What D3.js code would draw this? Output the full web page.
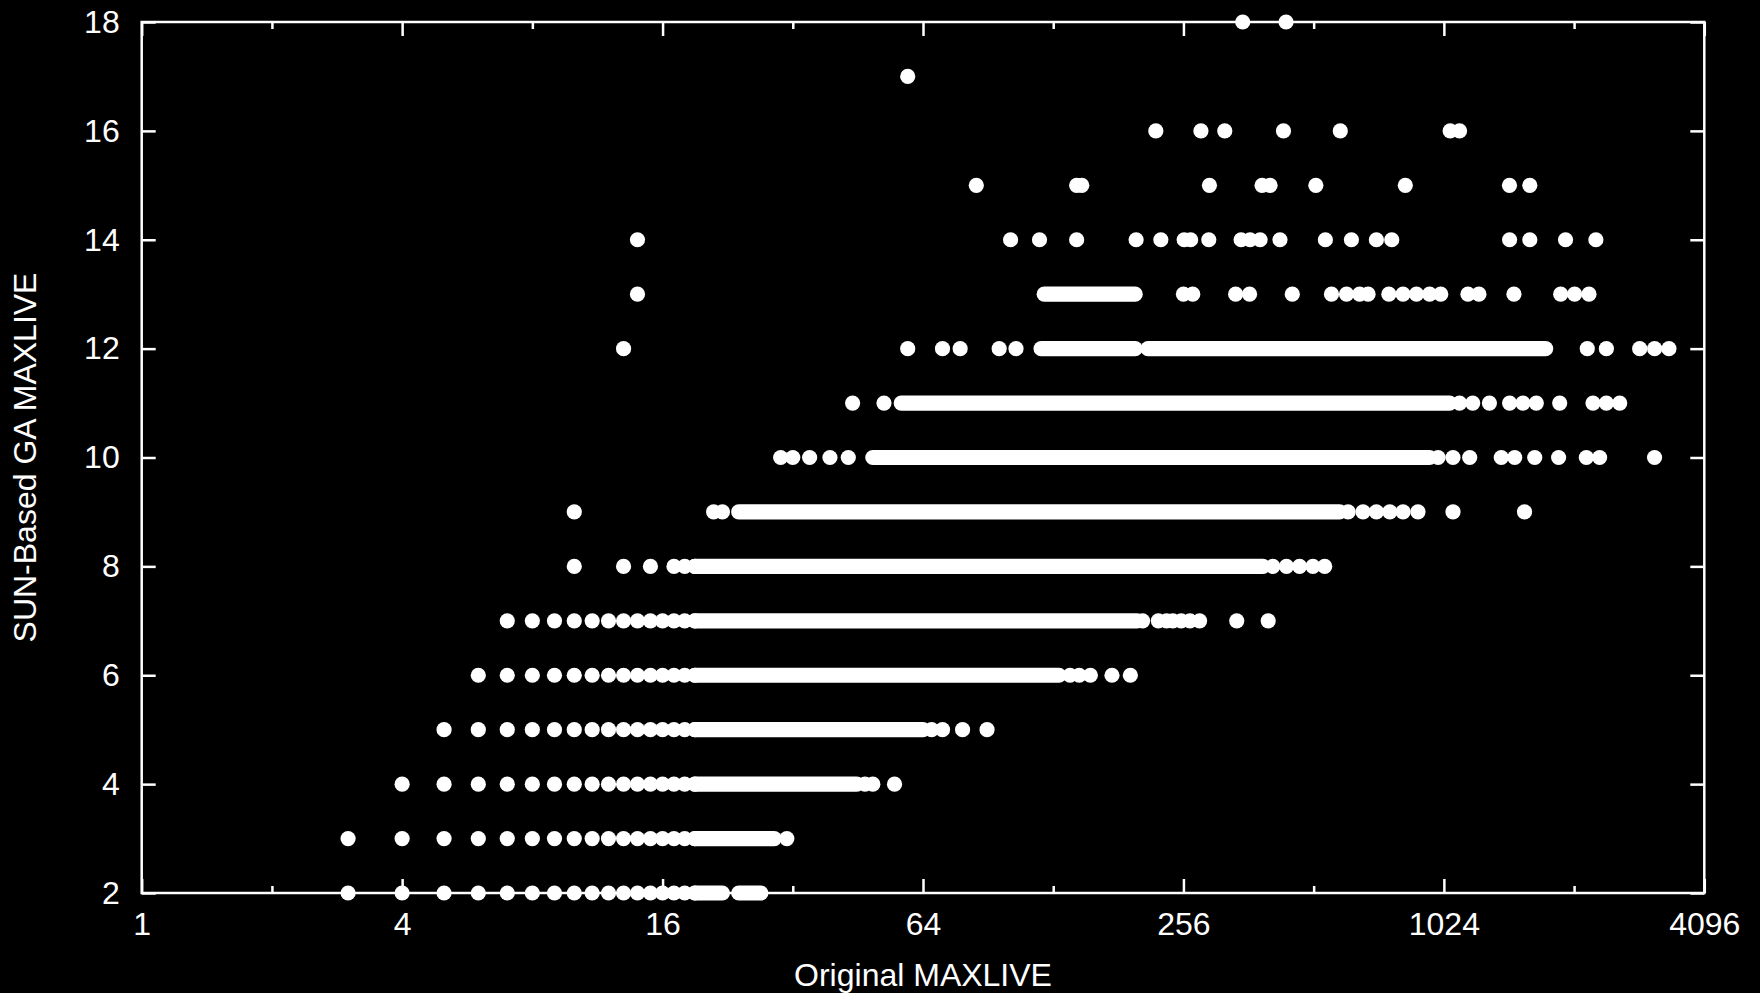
<!DOCTYPE html>
<html>
<head>
<meta charset="utf-8">
<script src="https://cdn.jsdelivr.net/npm/d3@7"></script>
<style>
  html, body { margin: 0; padding: 0; background: #000; }
  svg { display: block; }
  text { font-family: "Liberation Sans", Arial, Helvetica, sans-serif; fill: #fff; }
</style>
</head>
<body>
<div id="chart"></div>
<script>
// MAXLIVE scatter: x = original MAXLIVE (log2), y = SUN-based GA MAXLIVE
// single points per row, plus "bands" where the points are so dense they merge
const xMajorTicks = [1, 4, 16, 64, 256, 1024, 4096];
const xMinorTicks = [2, 8, 32, 128, 512, 2048];
const yTicks = [2, 4, 6, 8, 10, 12, 14, 16, 18];

const dots2 = [3, 4, 5, 6, 7, 8, 9, 10, 11, 12, 13, 14, 15, 16, 17, 18, 19];
const bands2 = [[19, 22], [24, 27]];
const dots3 = [3, 4, 5, 6, 7, 8, 9, 10, 11, 12, 13, 14, 15, 16, 17, 18, 19, 31];
const bands3 = [[19, 29]];
const dots4 = [4, 5, 6, 7, 8, 9, 10, 11, 12, 13, 14, 15, 16, 17, 18, 19, 47, 49, 55];
const bands4 = [[19, 45]];
const dots5 = [5, 6, 7, 8, 9, 10, 11, 12, 13, 14, 15, 16, 17, 18, 19, 67, 71, 79, 90];
const bands5 = [[19, 64]];
const dots6 = [6, 7, 8, 9, 10, 11, 12, 13, 14, 15, 16, 17, 18, 19, 140, 147, 156, 175, 193];
const bands6 = [[19, 132]];
const dots7 = [7, 8, 9, 10, 11, 12, 13, 14, 15, 16, 17, 18, 19, 206, 224, 234, 242, 253, 265, 279, 340, 402];
const bands7 = [[19, 200]];
const dots8 = [10, 13, 15, 17, 18, 19, 412, 443, 475, 510, 543];
const bands8 = [[19, 391]];
const dots9 = [10, 21, 22, 615, 666, 715, 768, 824, 892, 1075, 1573];
const bands9 = [[24, 588]];
const dots10 = [30, 32, 35, 39, 43, 993, 1075, 1175, 1390, 1493, 1661, 1886, 2186, 2346, 3143];
const bands10 = [[49, 949]];
const dots11 = [44, 52, 1113, 1194, 1305, 1453, 1560, 1675, 1897, 2265, 2432, 2611];
const bands11 = [[57, 1056]];
const dots12 = [13, 59, 71, 78, 96, 105, 2197, 2432, 2904, 3144, 3393];
const bands12 = [[120, 198], [212, 1760]];
const dots13 = [14, 256, 269, 338, 364, 457, 563, 610, 654, 684, 764, 824, 885, 949, 1007, 1164, 1234, 1487, 1907, 2054, 2217];
const bands13 = [[122, 198]];
const dots14 = [14, 102, 119, 145, 199, 227, 257, 266, 293, 348, 365, 385, 428, 545, 626, 715, 776, 1453, 1618, 1957, 2300];
const dots15 = [85, 145, 149, 294, 389, 406, 518, 834, 1452, 1618];
const dots16 = [221, 281, 319, 436, 590, 1059, 1113];
const dots17 = [59];
const dots18 = [351, 442];

const rows = [
  {y: 2, dots: dots2, bands: bands2},
  {y: 3, dots: dots3, bands: bands3},
  {y: 4, dots: dots4, bands: bands4},
  {y: 5, dots: dots5, bands: bands5},
  {y: 6, dots: dots6, bands: bands6},
  {y: 7, dots: dots7, bands: bands7},
  {y: 8, dots: dots8, bands: bands8},
  {y: 9, dots: dots9, bands: bands9},
  {y: 10, dots: dots10, bands: bands10},
  {y: 11, dots: dots11, bands: bands11},
  {y: 12, dots: dots12, bands: bands12},
  {y: 13, dots: dots13, bands: bands13},
  {y: 14, dots: dots14, bands: []},
  {y: 15, dots: dots15, bands: []},
  {y: 16, dots: dots16, bands: []},
  {y: 17, dots: dots17, bands: []},
  {y: 18, dots: dots18, bands: []}
];

const width = 1760;
const height = 993;
const plotLeft = 141.7, plotRight = 1704.3, plotTop = 22, plotBottom = 893;
const r = 7.6;
const fontSize = 32;

const x = d3.scaleLog().base(2).domain([1, 4096]).range([plotLeft, plotRight]);
const y = d3.scaleLinear().domain([2, 18]).range([plotBottom, plotTop]);

const svg = d3.select('#chart')
  .append('svg')
  .attr('width', width)
  .attr('height', height)
  .style('background', '#000');

function styleAxis(g) {
  g.select('.domain').remove();
  g.selectAll('line').attr('stroke', '#fff').attr('stroke-width', 2.5);
  g.selectAll('text')
    .style('font-size', fontSize + 'px')
    .attr('fill', '#fff');
}

// bottom
svg.append('g')
  .attr('transform', `translate(0,${plotBottom})`)
  .call(d3.axisBottom(x).tickValues(xMajorTicks).tickSizeInner(-14).tickSizeOuter(0)
    .tickPadding(19).tickFormat(d3.format('d')))
  .call(styleAxis);
svg.append('g')
  .attr('transform', `translate(0,${plotBottom})`)
  .call(d3.axisBottom(x).tickValues(xMinorTicks).tickSizeInner(-7).tickSizeOuter(0).tickFormat(''))
  .call(styleAxis);

// top (mirror, no labels)
svg.append('g')
  .attr('transform', `translate(0,${plotTop})`)
  .call(d3.axisTop(x).tickValues(xMajorTicks).tickSizeInner(-14).tickSizeOuter(0).tickFormat(''))
  .call(styleAxis);
svg.append('g')
  .attr('transform', `translate(0,${plotTop})`)
  .call(d3.axisTop(x).tickValues(xMinorTicks).tickSizeInner(-7).tickSizeOuter(0).tickFormat(''))
  .call(styleAxis);

// left
svg.append('g')
  .attr('transform', `translate(${plotLeft},0)`)
  .call(d3.axisLeft(y).tickValues(yTicks).tickSizeInner(-14).tickSizeOuter(0)
    .tickPadding(22).tickFormat(d3.format('d')))
  .call(styleAxis);

// right
svg.append('g')
  .attr('transform', `translate(${plotRight},0)`)
  .call(d3.axisRight(y).tickValues(yTicks).tickSizeInner(-14).tickSizeOuter(0).tickFormat(''))
  .call(styleAxis);

// frame
svg.append('rect')
  .attr('x', plotLeft)
  .attr('y', plotTop)
  .attr('width', plotRight - plotLeft)
  .attr('height', plotBottom - plotTop)
  .attr('fill', 'none')
  .attr('stroke', '#fff')
  .attr('stroke-width', 2.5);

// points
const marks = svg.append('g');

rows.forEach(row => {
  marks.selectAll(null)
    .data(row.bands)
    .enter()
    .append('line')
    .attr('x1', d => x(d[0]))
    .attr('x2', d => x(d[1]))
    .attr('y1', y(row.y))
    .attr('y2', y(row.y))
    .attr('stroke', '#fff')
    .attr('stroke-width', 2 * r)
    .attr('stroke-linecap', 'round');

  marks.selectAll(null)
    .data(row.dots)
    .enter()
    .append('circle')
    .attr('cx', d => x(d))
    .attr('cy', y(row.y))
    .attr('r', r)
    .attr('fill', '#fff');
});

// axis titles
svg.append('text')
  .attr('x', (plotLeft + plotRight) / 2)
  .attr('y', 986)
  .attr('text-anchor', 'middle')
  .style('font-size', fontSize + 'px')
  .text('Original MAXLIVE');

svg.append('text')
  .attr('transform', `translate(36,${(plotTop + plotBottom) / 2}) rotate(-90)`)
  .attr('text-anchor', 'middle')
  .style('font-size', fontSize + 'px')
  .text('SUN-Based GA MAXLIVE');
</script>
</body>
</html>
